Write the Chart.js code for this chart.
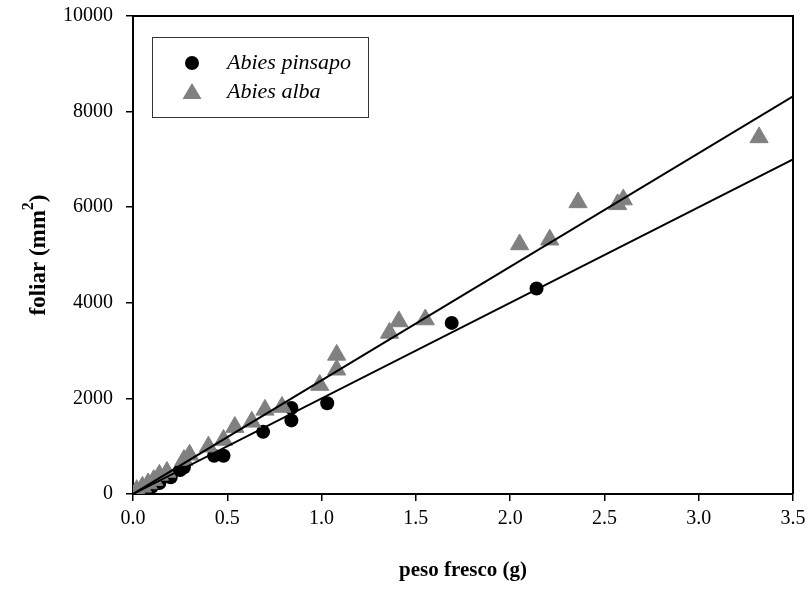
<!DOCTYPE html>
<html>
<head>
<meta charset="utf-8">
<script src="https://cdn.jsdelivr.net/npm/chart.js@4/dist/chart.umd.min.js"></script>
<style>
  html, body { margin: 0; padding: 0; background: #fff; }
</style>
</head>
<body>
<canvas id="area-chart" width="811" height="596"></canvas>
<script>
// Abies pinsapo (black circles)
const pinsapoX = [0.00, 0.02, 0.05, 0.10, 0.14, 0.20, 0.25, 0.27, 0.43, 0.48, 0.69, 0.84, 0.84, 1.03, 1.69, 2.14]
const pinsapoY = [20, 60, 100, 150, 230, 350, 500, 560, 800, 800, 1300, 1540, 1800, 1900, 3580, 4300]

// Abies alba (grey triangles)
const albaX = [0.02, 0.05, 0.08, 0.11, 0.14, 0.18, 0.27, 0.30, 0.40, 0.48, 0.54, 0.63, 0.70, 0.79, 0.99, 1.08, 1.08, 1.36, 1.41, 1.55, 2.05, 2.21, 2.36, 2.57, 2.60, 3.32]
const albaY = [80, 150, 220, 290, 400, 460, 710, 820, 990, 1130, 1400, 1510, 1760, 1820, 2280, 2600, 2910, 3370, 3610, 3650, 5220, 5320, 6100, 6060, 6160, 7460]

// regression lines
const fitX = [0, 3.5]
const pinsapoFit = [0, 7000]
const albaFit = [0, 8320]

const xTicks = [0, 0.5, 1.0, 1.5, 2.0, 2.5, 3.0, 3.5]
const yTicks = [0, 2000, 4000, 6000, 8000, 10000]

const serif = "'Liberation Serif', 'Times New Roman', serif"

function toPoints(xs, ys) {
    return xs.map((x, i) => ({ x: x, y: ys[i] }))
}

// frame round the plot area (top and right sides)
const framePlugin = {
    id: 'frame',
    afterDraw(chart) {
        const { ctx, chartArea: a } = chart
        ctx.save()
        ctx.strokeStyle = '#000'
        ctx.lineWidth = 2
        ctx.beginPath()
        ctx.moveTo(a.left, a.top)
        ctx.lineTo(a.right, a.top)
        ctx.lineTo(a.right, a.bottom)
        ctx.stroke()
        ctx.restore()
    }
}

// y title with a real superscript
const yTitle = {
    id: 'yTitle',
    afterDraw(chart) {
        const ctx = chart.ctx
        const a = chart.chartArea
        const big = 'bold 23px ' + serif
        const small = 'bold 16px ' + serif
        const parts = ['foliar (mm', '2', ')']
        ctx.save()
        ctx.font = big
        const w0 = ctx.measureText(parts[0]).width
        const w2 = ctx.measureText(parts[2]).width
        ctx.font = small
        const w1 = ctx.measureText(parts[1]).width
        const total = w0 + w1 + w2
        ctx.translate(37, (a.top + a.bottom) / 2)
        ctx.rotate(-Math.PI / 2)
        ctx.fillStyle = '#000'
        ctx.textBaseline = 'alphabetic'
        let x = -total / 2
        ctx.font = big
        ctx.fillText(parts[0], x, 8)
        x += w0
        ctx.font = small
        ctx.fillText(parts[1], x, -4)
        x += w1
        ctx.font = big
        ctx.fillText(parts[2], x, 8)
        ctx.restore()
    }
}

// boxed legend in the upper-left corner
const boxLegend = {
    id: 'boxLegend',
    afterDraw(chart) {
        const ctx = chart.ctx
        ctx.save()
        ctx.strokeStyle = '#333'
        ctx.lineWidth = 1
        ctx.strokeRect(152.5, 37.5, 216, 80)

        ctx.fillStyle = '#000'
        ctx.beginPath()
        ctx.arc(192, 63, 7, 0, Math.PI * 2)
        ctx.fill()

        ctx.fillStyle = '#808080'
        ctx.beginPath()
        ctx.moveTo(192, 83)
        ctx.lineTo(201.5, 99)
        ctx.lineTo(182.5, 99)
        ctx.closePath()
        ctx.fill()

        ctx.fillStyle = '#000'
        ctx.font = 'italic 22px ' + serif
        ctx.textBaseline = 'middle'
        ctx.fillText(chart.data.datasets[3].label, 227, 63)
        ctx.fillText(chart.data.datasets[2].label, 227, 92)
        ctx.restore()
    }
}

const config = {
    type: 'scatter',
    data: {
        datasets: [
            {
                type: 'line',
                label: 'fit pinsapo',
                data: toPoints(fitX, pinsapoFit),
                borderColor: '#000',
                borderWidth: 2,
                pointRadius: 0,
                fill: false
            },
            {
                type: 'line',
                label: 'fit alba',
                data: toPoints(fitX, albaFit),
                borderColor: '#000',
                borderWidth: 2,
                pointRadius: 0,
                fill: false
            },
            {
                label: 'Abies alba',
                data: toPoints(albaX, albaY),
                pointStyle: 'triangle',
                pointRadius: 10.5,
                backgroundColor: '#808080',
                borderColor: '#808080',
                borderWidth: 1
            },
            {
                label: 'Abies pinsapo',
                data: toPoints(pinsapoX, pinsapoY),
                pointStyle: 'circle',
                pointRadius: 7,
                backgroundColor: '#000',
                borderColor: '#000',
                borderWidth: 0
            }
        ]
    },
    options: {
        responsive: false,
        animation: false,
        devicePixelRatio: 1,
        layout: { padding: { left: 0, top: 16, right: 18, bottom: 0 } },
        plugins: {
            legend: { display: false },
            tooltip: { enabled: false }
        },
        scales: {
            x: {
                type: 'linear',
                min: 0,
                max: 3.5,
                afterFit: scale => {
                    scale.height = 102
                    scale.paddingLeft = 0
                    scale.paddingRight = 0
                },
                afterBuildTicks: scale => { scale.ticks = xTicks.map(v => ({ value: v })) },
                border: { display: true, color: '#000', width: 2 },
                grid: { display: true, drawOnChartArea: false, drawTicks: true, tickLength: 7, color: '#000', lineWidth: 1.5 },
                ticks: {
                    color: '#000',
                    padding: 6,
                    maxRotation: 0,
                    font: { family: serif, size: 20 },
                    callback: v => v.toFixed(1)
                },
                title: {
                    display: true,
                    text: 'peso fresco (g)',
                    color: '#000',
                    font: { family: serif, size: 21, weight: 'bold' },
                    padding: { top: 0, bottom: 13 }
                }
            },
            y: {
                type: 'linear',
                min: 0,
                max: 10000,
                afterFit: scale => {
                    scale.width = 133
                    scale.paddingTop = 0
                    scale.paddingBottom = 0
                },
                afterBuildTicks: scale => { scale.ticks = yTicks.map(v => ({ value: v })) },
                border: { display: true, color: '#000', width: 2 },
                grid: { display: true, drawOnChartArea: false, drawTicks: true, tickLength: 7, color: '#000', lineWidth: 1.5 },
                ticks: {
                    color: '#000',
                    padding: 13,
                    font: { family: serif, size: 20 },
                    callback: v => String(v)
                },
                title: { display: false }
            }
        }
    },
    plugins: [framePlugin, yTitle, boxLegend]
}

const areaChart = new Chart(document.getElementById('area-chart'), config)
</script>
</body>
</html>
